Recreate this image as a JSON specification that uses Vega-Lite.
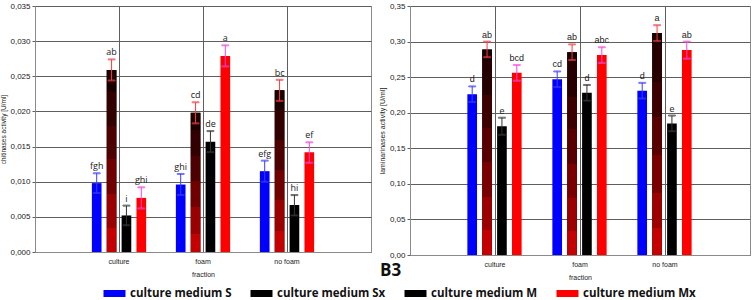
{
  "$schema": "https://vega.github.io/schema/vega-lite/v6.json",
  "padding": {"left": 0, "top": 1, "right": 0, "bottom": 0},
  "background": "white",
  "datasets": {
    "chit": [
      {"fraction": "culture", "medium": "culture medium S", "value": 0.0098, "low": 0.0084, "high": 0.0112, "label": "fgh"},
      {"fraction": "culture", "medium": "culture medium Sx", "value": 0.0259, "low": 0.0244, "high": 0.0274, "label": "ab"},
      {"fraction": "culture", "medium": "culture medium M", "value": 0.0052, "low": 0.0038, "high": 0.0066, "label": "i"},
      {"fraction": "culture", "medium": "culture medium Mx", "value": 0.0077, "low": 0.0062, "high": 0.0092, "label": "ghi"},
      {"fraction": "foam", "medium": "culture medium S", "value": 0.0096, "low": 0.0081, "high": 0.0111, "label": "ghi"},
      {"fraction": "foam", "medium": "culture medium Sx", "value": 0.0198, "low": 0.0183, "high": 0.0213, "label": "cd"},
      {"fraction": "foam", "medium": "culture medium M", "value": 0.0157, "low": 0.0142, "high": 0.0172, "label": "de"},
      {"fraction": "foam", "medium": "culture medium Mx", "value": 0.0279, "low": 0.0264, "high": 0.0294, "label": "a"},
      {"fraction": "no foam", "medium": "culture medium S", "value": 0.0115, "low": 0.0100, "high": 0.0130, "label": "efg"},
      {"fraction": "no foam", "medium": "culture medium Sx", "value": 0.0230, "low": 0.0215, "high": 0.0245, "label": "bc"},
      {"fraction": "no foam", "medium": "culture medium M", "value": 0.0067, "low": 0.0052, "high": 0.0081, "label": "hi"},
      {"fraction": "no foam", "medium": "culture medium Mx", "value": 0.0142, "low": 0.0127, "high": 0.0156, "label": "ef"}
    ],
    "lam": [
      {"fraction": "culture", "medium": "culture medium S", "value": 0.226, "low": 0.215, "high": 0.237, "label": "d"},
      {"fraction": "culture", "medium": "culture medium Sx", "value": 0.289, "low": 0.278, "high": 0.300, "label": "ab"},
      {"fraction": "culture", "medium": "culture medium M", "value": 0.181, "low": 0.169, "high": 0.193, "label": "e"},
      {"fraction": "culture", "medium": "culture medium Mx", "value": 0.256, "low": 0.245, "high": 0.267, "label": "bcd"},
      {"fraction": "foam", "medium": "culture medium S", "value": 0.247, "low": 0.236, "high": 0.258, "label": "cd"},
      {"fraction": "foam", "medium": "culture medium Sx", "value": 0.285, "low": 0.274, "high": 0.296, "label": "ab"},
      {"fraction": "foam", "medium": "culture medium M", "value": 0.228, "low": 0.217, "high": 0.239, "label": "d"},
      {"fraction": "foam", "medium": "culture medium Mx", "value": 0.281, "low": 0.270, "high": 0.292, "label": "abc"},
      {"fraction": "no foam", "medium": "culture medium S", "value": 0.231, "low": 0.220, "high": 0.242, "label": "d"},
      {"fraction": "no foam", "medium": "culture medium Sx", "value": 0.312, "low": 0.301, "high": 0.323, "label": "a"},
      {"fraction": "no foam", "medium": "culture medium M", "value": 0.185, "low": 0.174, "high": 0.196, "label": "e"},
      {"fraction": "no foam", "medium": "culture medium Mx", "value": 0.288, "low": 0.276, "high": 0.300, "label": "ab"}
    ]
  },
  "config": {
    "font": "Liberation Sans",
    "view": {"stroke": "#8a8a8a", "strokeWidth": 1},
    "axis": {
      "labelFont": "Liberation Sans",
      "titleFont": "Liberation Sans",
      "labelColor": "#222",
      "titleColor": "#222",
      "titleFontWeight": "normal",
      "gridColor": "#5e5e5e",
      "gridOpacity": 1,
      "domainColor": "#8a8a8a",
      "tickColor": "#5e5e5e",
      "labelOverlap": false
    },
    "legend": {
      "symbolType": "M-1,-0.32H1V0.32H-1Z",
      "symbolSize": 484,
      "symbolStrokeWidth": 0.6,
      "labelFont": "Open Sans",
      "labelFontSize": 11.5,
      "labelFontWeight": "bold",
      "labelColor": "#111",
      "labelOffset": 4,
      "columnPadding": 18,
      "labelLimit": 300
    }
  },
  "spacing": 5,
  "resolve": {"scale": {"color": "shared"}, "legend": {"color": "shared"}},
  "hconcat": [
    {
      "width": 336,
      "height": 246,
      "data": {"name": "chit"},
      "encoding": {
        "x": {
          "field": "fraction", "type": "nominal", "sort": ["culture", "foam", "no foam"],
          "scale": {"paddingInner": 0, "paddingOuter": 0.5},
          "title": "fraction",
          "axis": {"labelAngle": 0, "labelFontSize": 7, "labelPadding": 5, "ticks": false, "grid": true, "bandPosition": 0.5, "titleFontSize": 7, "titlePadding": 6}
        },
        "xOffset": {
          "field": "medium", "type": "nominal",
          "sort": ["culture medium S", "culture medium Sx", "culture medium M", "culture medium Mx"],
          "scale": {"paddingInner": 0.35, "paddingOuter": 1.53}
        }
      },
      "layer": [
        {
          "mark": {"type": "bar"},
          "encoding": {
            "y": {"field": "value", "type": "quantitative", "scale": {"domain": [0, 0.035], "nice": false}, "title": "chitinases activity [U/ml]",
              "axis": {"values": [0, 0.005, 0.01, 0.015, 0.02, 0.025, 0.03, 0.035], "format": ".3f", "labelExpr": "replace(datum.label, '.', ',')", "labelFontSize": 8, "tickSize": 3, "labelPadding": 2, "titleFontSize": 6.5, "titlePadding": 3}},
            "color": {
              "field": "medium", "type": "nominal", "title": null,
              "scale": {"domain": ["culture medium S", "culture medium Sx", "culture medium M", "culture medium Mx"], "range": ["#0000ff", "#000000", "#000000", "#ff0000"]},
              "legend": {"orient": "none", "direction": "horizontal", "legendX": 68, "legendY": 276}
            }
          }
        },
        {
          "transform": [{"filter": "datum.medium === 'culture medium Sx'"}],
          "mark": {
            "type": "bar",
            "color": {
              "gradient": "linear", "x1": 0, "y1": 1, "x2": 0, "y2": 0,
              "stops": [
                {"offset": 0, "color": "#c40000"}, {"offset": 0.13, "color": "#c40000"},
                {"offset": 0.13, "color": "#9a0000"}, {"offset": 0.32, "color": "#9a0000"},
                {"offset": 0.32, "color": "#700000"}, {"offset": 0.51, "color": "#700000"},
                {"offset": 0.51, "color": "#4c0000"}, {"offset": 0.69, "color": "#4c0000"},
                {"offset": 0.69, "color": "#320000"}, {"offset": 0.88, "color": "#320000"},
                {"offset": 0.88, "color": "#1c0000"}, {"offset": 1, "color": "#1c0000"}
              ]
            }
          },
          "encoding": {"y": {"field": "value", "type": "quantitative", "scale": {"domain": [0, 0.035], "nice": false}, "title": "chitinases activity [U/ml]",
              "axis": {"values": [0, 0.005, 0.01, 0.015, 0.02, 0.025, 0.03, 0.035], "format": ".3f", "labelExpr": "replace(datum.label, '.', ',')", "labelFontSize": 8, "tickSize": 3, "labelPadding": 2, "titleFontSize": 6.5, "titlePadding": 3}}}
        },
        {
          "mark": {"type": "rule", "strokeWidth": 1},
          "encoding": {
            "y": {"field": "low", "type": "quantitative", "scale": {"domain": [0, 0.035], "nice": false}, "title": "chitinases activity [U/ml]",
              "axis": {"values": [0, 0.005, 0.01, 0.015, 0.02, 0.025, 0.03, 0.035], "format": ".3f", "labelExpr": "replace(datum.label, '.', ',')", "labelFontSize": 8, "tickSize": 3, "labelPadding": 2, "titleFontSize": 6.5, "titlePadding": 3}},
            "y2": {"field": "high"},
            "stroke": {"condition": [
              {"test": "datum.medium === 'culture medium S'", "value": "#3a3aff"},
              {"test": "datum.medium === 'culture medium Sx'", "value": "#ff3a3a"},
              {"test": "datum.medium === 'culture medium Mx'", "value": "#ff44dd"}
            ], "value": "#333333"}
          }
        },
        {
          "mark": {"type": "tick", "size": 7, "thickness": 1},
          "encoding": {
            "y": {"field": "high", "type": "quantitative", "scale": {"domain": [0, 0.035], "nice": false}, "title": "chitinases activity [U/ml]",
              "axis": {"values": [0, 0.005, 0.01, 0.015, 0.02, 0.025, 0.03, 0.035], "format": ".3f", "labelExpr": "replace(datum.label, '.', ',')", "labelFontSize": 8, "tickSize": 3, "labelPadding": 2, "titleFontSize": 6.5, "titlePadding": 3}},
            "stroke": {"condition": [
              {"test": "datum.medium === 'culture medium S'", "value": "#3a3aff"},
              {"test": "datum.medium === 'culture medium Sx'", "value": "#ff3a3a"},
              {"test": "datum.medium === 'culture medium Mx'", "value": "#ff44dd"}
            ], "value": "#333333"}
          }
        },
        {
          "mark": {"type": "tick", "size": 7, "thickness": 1},
          "encoding": {
            "y": {"field": "low", "type": "quantitative", "scale": {"domain": [0, 0.035], "nice": false}, "title": "chitinases activity [U/ml]",
              "axis": {"values": [0, 0.005, 0.01, 0.015, 0.02, 0.025, 0.03, 0.035], "format": ".3f", "labelExpr": "replace(datum.label, '.', ',')", "labelFontSize": 8, "tickSize": 3, "labelPadding": 2, "titleFontSize": 6.5, "titlePadding": 3}},
            "stroke": {"condition": [
              {"test": "datum.medium === 'culture medium S'", "value": "#3a3aff"},
              {"test": "datum.medium === 'culture medium Sx'", "value": "#ff3a3a"},
              {"test": "datum.medium === 'culture medium Mx'", "value": "#ff44dd"}
            ], "value": "#333333"}
          }
        },
        {
          "mark": {"type": "text", "baseline": "bottom", "dy": -2, "fontSize": 9, "font": "Open Sans", "color": "#222"},
          "encoding": {
            "y": {"field": "high", "type": "quantitative", "scale": {"domain": [0, 0.035], "nice": false}, "title": "chitinases activity [U/ml]",
              "axis": {"values": [0, 0.005, 0.01, 0.015, 0.02, 0.025, 0.03, 0.035], "format": ".3f", "labelExpr": "replace(datum.label, '.', ',')", "labelFontSize": 8, "tickSize": 3, "labelPadding": 2, "titleFontSize": 6.5, "titlePadding": 3}},
            "text": {"field": "label"}
          }
        }
      ]
    },
    {
      "width": 340,
      "height": 249,
      "data": {"name": "lam"},
      "title": {"text": "B3", "orient": "bottom", "anchor": "start", "frame": "group", "dx": -30, "offset": -17, "fontSize": 17, "fontWeight": "bold", "font": "Open Sans", "color": "#111"},
      "encoding": {
        "x": {
          "field": "fraction", "type": "nominal", "sort": ["culture", "foam", "no foam"],
          "scale": {"paddingInner": 0, "paddingOuter": 0.5},
          "title": "fraction",
          "axis": {"labelAngle": 0, "labelFontSize": 7, "labelPadding": 5, "ticks": false, "grid": true, "bandPosition": 0.5, "titleFontSize": 7, "titlePadding": 6}
        },
        "xOffset": {
          "field": "medium", "type": "nominal",
          "sort": ["culture medium S", "culture medium Sx", "culture medium M", "culture medium Mx"],
          "scale": {"paddingInner": 0.32, "paddingOuter": 1.42}
        }
      },
      "layer": [
        {
          "mark": {"type": "bar"},
          "encoding": {
            "y": {"field": "value", "type": "quantitative", "scale": {"domain": [0, 0.35], "nice": false}, "title": "laminarinases activity [U/ml]",
              "axis": {"values": [0, 0.05, 0.1, 0.15, 0.2, 0.25, 0.3, 0.35], "format": ".2f", "labelExpr": "replace(datum.label, '.', ',')", "labelFontSize": 8, "tickSize": 3, "labelPadding": 2, "titleFontSize": 7, "titlePadding": 4}},
            "color": {"field": "medium", "type": "nominal", "title": null}
          }
        },
        {
          "transform": [{"filter": "datum.medium === 'culture medium Sx'"}],
          "mark": {
            "type": "bar",
            "color": {
              "gradient": "linear", "x1": 0, "y1": 1, "x2": 0, "y2": 0,
              "stops": [
                {"offset": 0, "color": "#c40000"}, {"offset": 0.12, "color": "#c40000"},
                {"offset": 0.12, "color": "#9c0000"}, {"offset": 0.28, "color": "#9c0000"},
                {"offset": 0.28, "color": "#7a0000"}, {"offset": 0.45, "color": "#7a0000"},
                {"offset": 0.45, "color": "#580000"}, {"offset": 0.62, "color": "#580000"},
                {"offset": 0.62, "color": "#3c0000"}, {"offset": 0.78, "color": "#3c0000"},
                {"offset": 0.78, "color": "#260000"}, {"offset": 0.95, "color": "#260000"},
                {"offset": 0.95, "color": "#160000"}, {"offset": 1, "color": "#160000"}
              ]
            }
          },
          "encoding": {"y": {"field": "value", "type": "quantitative", "scale": {"domain": [0, 0.35], "nice": false}, "title": "laminarinases activity [U/ml]",
              "axis": {"values": [0, 0.05, 0.1, 0.15, 0.2, 0.25, 0.3, 0.35], "format": ".2f", "labelExpr": "replace(datum.label, '.', ',')", "labelFontSize": 8, "tickSize": 3, "labelPadding": 2, "titleFontSize": 7, "titlePadding": 4}}}
        },
        {
          "mark": {"type": "rule", "strokeWidth": 1},
          "encoding": {
            "y": {"field": "low", "type": "quantitative", "scale": {"domain": [0, 0.35], "nice": false}, "title": "laminarinases activity [U/ml]",
              "axis": {"values": [0, 0.05, 0.1, 0.15, 0.2, 0.25, 0.3, 0.35], "format": ".2f", "labelExpr": "replace(datum.label, '.', ',')", "labelFontSize": 8, "tickSize": 3, "labelPadding": 2, "titleFontSize": 7, "titlePadding": 4}},
            "y2": {"field": "high"},
            "stroke": {"condition": [
              {"test": "datum.medium === 'culture medium S'", "value": "#3a3aff"},
              {"test": "datum.medium === 'culture medium Sx'", "value": "#ff3a3a"},
              {"test": "datum.medium === 'culture medium Mx'", "value": "#ff44dd"}
            ], "value": "#333333"}
          }
        },
        {
          "mark": {"type": "tick", "size": 7, "thickness": 1},
          "encoding": {
            "y": {"field": "high", "type": "quantitative", "scale": {"domain": [0, 0.35], "nice": false}, "title": "laminarinases activity [U/ml]",
              "axis": {"values": [0, 0.05, 0.1, 0.15, 0.2, 0.25, 0.3, 0.35], "format": ".2f", "labelExpr": "replace(datum.label, '.', ',')", "labelFontSize": 8, "tickSize": 3, "labelPadding": 2, "titleFontSize": 7, "titlePadding": 4}},
            "stroke": {"condition": [
              {"test": "datum.medium === 'culture medium S'", "value": "#3a3aff"},
              {"test": "datum.medium === 'culture medium Sx'", "value": "#ff3a3a"},
              {"test": "datum.medium === 'culture medium Mx'", "value": "#ff44dd"}
            ], "value": "#333333"}
          }
        },
        {
          "mark": {"type": "tick", "size": 7, "thickness": 1},
          "encoding": {
            "y": {"field": "low", "type": "quantitative", "scale": {"domain": [0, 0.35], "nice": false}, "title": "laminarinases activity [U/ml]",
              "axis": {"values": [0, 0.05, 0.1, 0.15, 0.2, 0.25, 0.3, 0.35], "format": ".2f", "labelExpr": "replace(datum.label, '.', ',')", "labelFontSize": 8, "tickSize": 3, "labelPadding": 2, "titleFontSize": 7, "titlePadding": 4}},
            "stroke": {"condition": [
              {"test": "datum.medium === 'culture medium S'", "value": "#3a3aff"},
              {"test": "datum.medium === 'culture medium Sx'", "value": "#ff3a3a"},
              {"test": "datum.medium === 'culture medium Mx'", "value": "#ff44dd"}
            ], "value": "#333333"}
          }
        },
        {
          "mark": {"type": "text", "baseline": "bottom", "dy": -2, "fontSize": 9, "font": "Liberation Sans", "color": "#222"},
          "encoding": {
            "y": {"field": "high", "type": "quantitative", "scale": {"domain": [0, 0.35], "nice": false}, "title": "laminarinases activity [U/ml]",
              "axis": {"values": [0, 0.05, 0.1, 0.15, 0.2, 0.25, 0.3, 0.35], "format": ".2f", "labelExpr": "replace(datum.label, '.', ',')", "labelFontSize": 8, "tickSize": 3, "labelPadding": 2, "titleFontSize": 7, "titlePadding": 4}},
            "text": {"field": "label"}
          }
        }
      ]
    }
  ]
}
